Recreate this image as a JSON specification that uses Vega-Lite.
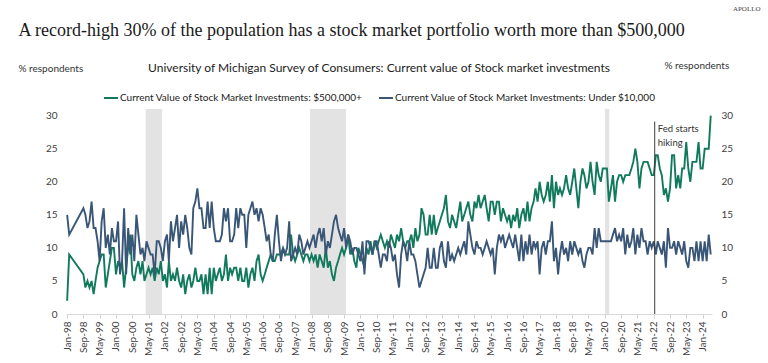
{
  "$schema": "https://vega.github.io/schema/vega-lite/v6.json",
  "width": 646,
  "height": 205,
  "autosize": {"type": "none"},
  "padding": {"left": 66, "top": 109, "right": 56, "bottom": 49},
  "background": "white",
  "config": {"view": {"stroke": null}, "font": "Lato", "axis": {"grid": false}},
  "datasets": {
    "survey": [
      {"d":"1998-01","g":2,"b":15},{"d":"1998-02","g":9,"b":12},{"d":"1998-09","g":6,"b":16},{"d":"1998-10","g":4,"b":15},{"d":"1998-11","g":5,"b":13},{"d":"1998-12","g":4,"b":14},
      {"d":"1999-01","g":5,"b":17},{"d":"1999-02","g":3,"b":13},{"d":"1999-03","g":5,"b":13},{"d":"1999-04","g":7,"b":11},{"d":"1999-05","g":8,"b":8},{"d":"1999-06","g":9,"b":14},{"d":"1999-07","g":9,"b":16},{"d":"1999-08","g":4,"b":10},{"d":"1999-09","g":6,"b":12},{"d":"1999-10","g":8,"b":9},{"d":"1999-11","g":10,"b":13},{"d":"1999-12","g":10,"b":11},
      {"d":"2000-01","g":6,"b":11},{"d":"2000-02","g":8,"b":14},{"d":"2000-03","g":7,"b":6},{"d":"2000-04","g":8,"b":8},{"d":"2000-05","g":4,"b":16},{"d":"2000-06","g":7,"b":6},{"d":"2000-07","g":10,"b":13},{"d":"2000-08","g":12,"b":9},{"d":"2000-09","g":6,"b":12},{"d":"2000-10","g":5,"b":8},{"d":"2000-11","g":7,"b":15},{"d":"2000-12","g":8,"b":12},
      {"d":"2001-01","g":6,"b":9},{"d":"2001-02","g":8,"b":10},{"d":"2001-03","g":5,"b":8},{"d":"2001-04","g":6,"b":11},{"d":"2001-05","g":7,"b":10},{"d":"2001-06","g":6,"b":9},{"d":"2001-07","g":7,"b":9},{"d":"2001-08","g":5,"b":6},{"d":"2001-09","g":7,"b":11},{"d":"2001-10","g":6,"b":11},{"d":"2001-11","g":8,"b":10},{"d":"2001-12","g":5,"b":8},
      {"d":"2002-01","g":6,"b":11},{"d":"2002-02","g":4,"b":12},{"d":"2002-03","g":8,"b":8},{"d":"2002-04","g":5,"b":14},{"d":"2002-05","g":6,"b":11},{"d":"2002-06","g":5,"b":13},{"d":"2002-07","g":7,"b":15},{"d":"2002-08","g":5,"b":10},{"d":"2002-09","g":4,"b":14},{"d":"2002-10","g":6,"b":12},{"d":"2002-11","g":3,"b":15},{"d":"2002-12","g":5,"b":13},
      {"d":"2003-01","g":6,"b":10},{"d":"2003-02","g":4,"b":9},{"d":"2003-03","g":5,"b":16},{"d":"2003-04","g":7,"b":17},{"d":"2003-05","g":5,"b":19},{"d":"2003-06","g":5,"b":16},{"d":"2003-07","g":6,"b":16},{"d":"2003-08","g":3,"b":13},{"d":"2003-09","g":6,"b":13},{"d":"2003-10","g":3,"b":17},{"d":"2003-11","g":7,"b":13},{"d":"2003-12","g":3,"b":17},
      {"d":"2004-01","g":7,"b":13},{"d":"2004-02","g":5,"b":11},{"d":"2004-03","g":6,"b":11},{"d":"2004-04","g":7,"b":11},{"d":"2004-05","g":5,"b":12},{"d":"2004-06","g":6,"b":16},{"d":"2004-07","g":9,"b":14},{"d":"2004-08","g":5,"b":16},{"d":"2004-09","g":7,"b":11},{"d":"2004-10","g":6,"b":11},{"d":"2004-11","g":7,"b":12},{"d":"2004-12","g":7,"b":16},
      {"d":"2005-01","g":5,"b":13},{"d":"2005-02","g":7,"b":16},{"d":"2005-03","g":5,"b":15},{"d":"2005-04","g":5,"b":15},{"d":"2005-05","g":7,"b":10},{"d":"2005-06","g":4,"b":15},{"d":"2005-07","g":6,"b":16},{"d":"2005-08","g":7,"b":17},{"d":"2005-09","g":5,"b":15},{"d":"2005-10","g":8,"b":16},{"d":"2005-11","g":9,"b":14},{"d":"2005-12","g":6,"b":16},
      {"d":"2006-01","g":5,"b":15},{"d":"2006-02","g":6,"b":13},{"d":"2006-03","g":7,"b":11},{"d":"2006-04","g":8,"b":12},{"d":"2006-05","g":9,"b":9},{"d":"2006-06","g":8,"b":8},{"d":"2006-07","g":8,"b":12},{"d":"2006-08","g":9,"b":15},{"d":"2006-09","g":9,"b":11},{"d":"2006-10","g":9,"b":8},{"d":"2006-11","g":10,"b":10},{"d":"2006-12","g":9,"b":9},
      {"d":"2007-01","g":9,"b":10},{"d":"2007-02","g":9,"b":14},{"d":"2007-03","g":12,"b":8},{"d":"2007-04","g":9,"b":9},{"d":"2007-05","g":8,"b":10},{"d":"2007-06","g":9,"b":9},{"d":"2007-07","g":10,"b":12},{"d":"2007-08","g":9,"b":11},{"d":"2007-09","g":8,"b":9},{"d":"2007-10","g":9,"b":10},{"d":"2007-11","g":9,"b":11},{"d":"2007-12","g":8,"b":10},
      {"d":"2008-01","g":9,"b":11},{"d":"2008-02","g":8,"b":12},{"d":"2008-03","g":9,"b":10},{"d":"2008-04","g":7,"b":12},{"d":"2008-05","g":9,"b":13},{"d":"2008-06","g":8,"b":11},{"d":"2008-07","g":7,"b":13},{"d":"2008-08","g":10,"b":9},{"d":"2008-09","g":7,"b":11},{"d":"2008-10","g":8,"b":10},{"d":"2008-11","g":6,"b":12},{"d":"2008-12","g":5,"b":14},
      {"d":"2009-01","g":7,"b":15},{"d":"2009-02","g":8,"b":13},{"d":"2009-03","g":9,"b":12},{"d":"2009-04","g":10,"b":11},{"d":"2009-05","g":9,"b":13},{"d":"2009-06","g":10,"b":10},{"d":"2009-07","g":12,"b":12},{"d":"2009-08","g":9,"b":11},{"d":"2009-09","g":10,"b":9},{"d":"2009-10","g":8,"b":10},{"d":"2009-11","g":7,"b":10},{"d":"2009-12","g":10,"b":9},
      {"d":"2010-01","g":9,"b":8},{"d":"2010-02","g":8,"b":11},{"d":"2010-03","g":7,"b":6},{"d":"2010-04","g":10,"b":11},{"d":"2010-05","g":9,"b":11},{"d":"2010-06","g":11,"b":10},{"d":"2010-07","g":9,"b":9},{"d":"2010-08","g":11,"b":11},{"d":"2010-09","g":10,"b":11},{"d":"2010-10","g":11,"b":9},{"d":"2010-11","g":12,"b":7},{"d":"2010-12","g":11,"b":9},
      {"d":"2011-01","g":10,"b":9},{"d":"2011-02","g":11,"b":8},{"d":"2011-03","g":10,"b":11},{"d":"2011-04","g":12,"b":10},{"d":"2011-05","g":11,"b":8},{"d":"2011-06","g":10,"b":9},{"d":"2011-07","g":12,"b":6},{"d":"2011-08","g":11,"b":4},{"d":"2011-09","g":13,"b":9},{"d":"2011-10","g":11,"b":11},{"d":"2011-11","g":10,"b":10},{"d":"2011-12","g":11,"b":8},
      {"d":"2012-01","g":11,"b":11},{"d":"2012-02","g":12,"b":9},{"d":"2012-03","g":10,"b":9},{"d":"2012-04","g":13,"b":8},{"d":"2012-05","g":11,"b":6},{"d":"2012-06","g":12,"b":4},{"d":"2012-07","g":16,"b":5},{"d":"2012-08","g":15,"b":6},{"d":"2012-09","g":12,"b":7},{"d":"2012-10","g":12,"b":10},{"d":"2012-11","g":15,"b":7},{"d":"2012-12","g":12,"b":7},
      {"d":"2013-01","g":15,"b":10},{"d":"2013-02","g":12,"b":7},{"d":"2013-03","g":13,"b":7},{"d":"2013-04","g":14,"b":10},{"d":"2013-05","g":15,"b":11},{"d":"2013-06","g":16,"b":8},{"d":"2013-07","g":18,"b":7},{"d":"2013-08","g":14,"b":11},{"d":"2013-09","g":13,"b":8},{"d":"2013-10","g":15,"b":9},{"d":"2013-11","g":14,"b":8},{"d":"2013-12","g":13,"b":9},
      {"d":"2014-01","g":15,"b":10},{"d":"2014-02","g":17,"b":9},{"d":"2014-03","g":14,"b":10},{"d":"2014-04","g":15,"b":11},{"d":"2014-05","g":16,"b":9},{"d":"2014-06","g":17,"b":14},{"d":"2014-07","g":15,"b":12},{"d":"2014-08","g":14,"b":10},{"d":"2014-09","g":17,"b":9},{"d":"2014-10","g":16,"b":11},{"d":"2014-11","g":18,"b":10},{"d":"2014-12","g":16,"b":10},
      {"d":"2015-01","g":17,"b":9},{"d":"2015-02","g":18,"b":10},{"d":"2015-03","g":16,"b":11},{"d":"2015-04","g":14,"b":10},{"d":"2015-05","g":17,"b":9},{"d":"2015-06","g":17,"b":10},{"d":"2015-07","g":15,"b":6},{"d":"2015-08","g":17,"b":10},{"d":"2015-09","g":17,"b":12},{"d":"2015-10","g":14,"b":11},{"d":"2015-11","g":16,"b":12},{"d":"2015-12","g":15,"b":10},
      {"d":"2016-01","g":14,"b":11},{"d":"2016-02","g":15,"b":12},{"d":"2016-03","g":13,"b":11},{"d":"2016-04","g":15,"b":10},{"d":"2016-05","g":14,"b":12},{"d":"2016-06","g":16,"b":10},{"d":"2016-07","g":13,"b":8},{"d":"2016-08","g":15,"b":12},{"d":"2016-09","g":16,"b":8},{"d":"2016-10","g":14,"b":11},{"d":"2016-11","g":17,"b":9},{"d":"2016-12","g":14,"b":12},
      {"d":"2017-01","g":16,"b":9},{"d":"2017-02","g":17,"b":11},{"d":"2017-03","g":19,"b":10},{"d":"2017-04","g":17,"b":11},{"d":"2017-05","g":20,"b":6},{"d":"2017-06","g":18,"b":10},{"d":"2017-07","g":17,"b":11},{"d":"2017-08","g":18,"b":9},{"d":"2017-09","g":20,"b":11},{"d":"2017-10","g":17,"b":11},{"d":"2017-11","g":21,"b":14},{"d":"2017-12","g":16,"b":8},
      {"d":"2018-01","g":20,"b":10},{"d":"2018-02","g":18,"b":6},{"d":"2018-03","g":19,"b":9},{"d":"2018-04","g":18,"b":11},{"d":"2018-05","g":19,"b":9},{"d":"2018-06","g":21,"b":10},{"d":"2018-07","g":19,"b":8},{"d":"2018-08","g":18,"b":11},{"d":"2018-09","g":20,"b":9},{"d":"2018-10","g":22,"b":11},{"d":"2018-11","g":19,"b":10},{"d":"2018-12","g":16,"b":9},
      {"d":"2019-01","g":20,"b":10},{"d":"2019-02","g":22,"b":8},{"d":"2019-03","g":21,"b":7},{"d":"2019-04","g":19,"b":9},{"d":"2019-05","g":20,"b":10},{"d":"2019-06","g":23,"b":10},{"d":"2019-07","g":20,"b":9},{"d":"2019-08","g":18,"b":13},{"d":"2019-09","g":23,"b":10},{"d":"2019-10","g":21,"b":13},{"d":"2019-11","g":20,"b":11},{"d":"2019-12","g":22,"b":11},
      {"d":"2020-01","g":22,"b":11},{"d":"2020-02","g":22,"b":11},{"d":"2020-03","g":17,"b":11},{"d":"2020-04","g":19,"b":11},{"d":"2020-05","g":21,"b":12},{"d":"2020-06","g":17,"b":13},{"d":"2020-07","g":20,"b":11},{"d":"2020-08","g":21,"b":12},{"d":"2020-09","g":21,"b":11},{"d":"2020-10","g":20,"b":13},{"d":"2020-11","g":21,"b":9},{"d":"2020-12","g":21,"b":12},
      {"d":"2021-01","g":21,"b":10},{"d":"2021-02","g":22,"b":11},{"d":"2021-03","g":23,"b":13},{"d":"2021-04","g":25,"b":9},{"d":"2021-05","g":23,"b":12},{"d":"2021-06","g":19,"b":10},{"d":"2021-07","g":22,"b":13},{"d":"2021-08","g":23,"b":11},{"d":"2021-09","g":23,"b":11},{"d":"2021-10","g":23,"b":9},{"d":"2021-11","g":22,"b":11},{"d":"2021-12","g":21,"b":10},
      {"d":"2022-01","g":21,"b":11},{"d":"2022-02","g":24,"b":9},{"d":"2022-03","g":24,"b":11},{"d":"2022-04","g":22,"b":10},{"d":"2022-05","g":21,"b":9},{"d":"2022-06","g":18,"b":11},{"d":"2022-07","g":19,"b":7},{"d":"2022-08","g":17,"b":13},{"d":"2022-09","g":19,"b":10},{"d":"2022-10","g":24,"b":10},{"d":"2022-11","g":24,"b":11},{"d":"2022-12","g":19,"b":9},
      {"d":"2023-01","g":21,"b":11},{"d":"2023-02","g":19,"b":10},{"d":"2023-03","g":22,"b":9},{"d":"2023-04","g":22,"b":11},{"d":"2023-05","g":26,"b":8},{"d":"2023-06","g":22,"b":7},{"d":"2023-07","g":20,"b":10},{"d":"2023-08","g":23,"b":10},{"d":"2023-09","g":23,"b":8},{"d":"2023-10","g":23,"b":11},{"d":"2023-11","g":26,"b":8},{"d":"2023-12","g":22,"b":11},
      {"d":"2024-01","g":22,"b":8},{"d":"2024-02","g":25,"b":11},{"d":"2024-03","g":25,"b":8},{"d":"2024-04","g":25,"b":12},{"d":"2024-05","g":30,"b":9}
    ],
    "recessions": [
      {"start":"2001-03-20","end":"2001-11-20"},
      {"start":"2007-12-09","end":"2009-05-30"},
      {"start":"2020-01-04","end":"2020-03-08"}
    ],
    "events": [
      {"date":"2022-01-15","top":29.1,"label":"Fed starts\nhiking"}
    ]
  },
  "layer": [
    {
      "data": {"name": "recessions"},
      "mark": {"type": "rect", "color": "#e3e3e3"},
      "encoding": {
        "x": {"field": "start", "type": "temporal", "axis": null, "scale": {"type": "utc"}},
        "x2": {"field": "end"}
      }
    },
    {
      "data": {"name": "survey"},
      "transform": [{"fold": ["g", "b"], "as": ["series", "value"]}],
      "mark": {"type": "line", "strokeWidth": 1.9},
      "encoding": {
        "x": {
          "field": "d", "type": "temporal",
          "scale": {"type": "utc", "domain": [{"year": 1997, "month": 12, "date": 15, "utc": true}, {"year": 2024, "month": 5, "date": 20, "utc": true}]},
          "axis": {
            "orient": "bottom",
            "values": [
              {"year":1998,"month":1,"date":1,"utc":true},{"year":1998,"month":9,"date":1,"utc":true},{"year":1999,"month":5,"date":1,"utc":true},
              {"year":2000,"month":1,"date":1,"utc":true},{"year":2000,"month":9,"date":1,"utc":true},{"year":2001,"month":5,"date":1,"utc":true},
              {"year":2002,"month":1,"date":1,"utc":true},{"year":2002,"month":9,"date":1,"utc":true},{"year":2003,"month":5,"date":1,"utc":true},
              {"year":2004,"month":1,"date":1,"utc":true},{"year":2004,"month":9,"date":1,"utc":true},{"year":2005,"month":5,"date":1,"utc":true},
              {"year":2006,"month":1,"date":1,"utc":true},{"year":2006,"month":9,"date":1,"utc":true},{"year":2007,"month":5,"date":1,"utc":true},
              {"year":2008,"month":1,"date":1,"utc":true},{"year":2008,"month":9,"date":1,"utc":true},{"year":2009,"month":5,"date":1,"utc":true},
              {"year":2010,"month":1,"date":1,"utc":true},{"year":2010,"month":9,"date":1,"utc":true},{"year":2011,"month":5,"date":1,"utc":true},
              {"year":2012,"month":1,"date":1,"utc":true},{"year":2012,"month":9,"date":1,"utc":true},{"year":2013,"month":5,"date":1,"utc":true},
              {"year":2014,"month":1,"date":1,"utc":true},{"year":2014,"month":9,"date":1,"utc":true},{"year":2015,"month":5,"date":1,"utc":true},
              {"year":2016,"month":1,"date":1,"utc":true},{"year":2016,"month":9,"date":1,"utc":true},{"year":2017,"month":5,"date":1,"utc":true},
              {"year":2018,"month":1,"date":1,"utc":true},{"year":2018,"month":9,"date":1,"utc":true},{"year":2019,"month":5,"date":1,"utc":true},
              {"year":2020,"month":1,"date":1,"utc":true},{"year":2020,"month":9,"date":1,"utc":true},{"year":2021,"month":5,"date":1,"utc":true},
              {"year":2022,"month":1,"date":1,"utc":true},{"year":2022,"month":9,"date":1,"utc":true},{"year":2023,"month":5,"date":1,"utc":true},
              {"year":2024,"month":1,"date":1,"utc":true}
            ],
            "format": "%b-%y",
            "labelAngle": -90,
            "labelFontSize": 10,
            "labelColor": "#404040",
            "labelPadding": 3,
            "labelFlush": false,
            "labelOverlap": false,
            "tickSize": 4,
            "tickColor": "#d0d0d0",
            "domainColor": "#d9d9d9",
            "title": "APOLLO",
            "titleX": 694,
            "titleY": -306,
            "titleAlign": "right",
            "titleBaseline": "middle",
            "titleFont": "Liberation Serif",
            "titleFontSize": 7,
            "titleFontWeight": "normal",
            "titleColor": "#444444"
          }
        },
        "y": {
          "field": "value", "type": "quantitative",
          "scale": {"domain": [0, 31], "nice": false, "zero": false},
          "axis": {
            "orient": "left",
            "values": [0, 5, 10, 15, 20, 25, 30],
            "domain": false,
            "ticks": false,
            "labelPadding": 9,
            "labelFontSize": 10,
            "labelColor": "#404040",
            "title": "% respondents",
            "titleAngle": 0,
            "titleX": -48,
            "titleY": -41,
            "titleAlign": "left",
            "titleBaseline": "middle",
            "titleFontSize": 10,
            "titleFontWeight": "normal",
            "titleColor": "#333333"
          }
        },
        "color": {
          "field": "series", "type": "nominal",
          "scale": {"domain": ["g", "b"], "range": ["#127a5c", "#3a5677"]},
          "legend": {
            "orient": "none",
            "legendX": 37,
            "legendY": -46,
            "direction": "horizontal",
            "title": "University of Michigan Survey of Consumers: Current value of Stock market investments",
            "titleOrient": "top",
            "titleAnchor": "middle",
            "titleFontSize": 12,
            "titleFontWeight": "normal",
            "titleColor": "#222222",
            "titlePadding": 15,
            "titleLimit": 800,
            "labelLimit": 400,
            "labelFontSize": 10,
            "labelColor": "#222222",
            "symbolType": "stroke",
            "symbolSize": 196,
            "symbolStrokeWidth": 2,
            "labelOffset": 1,
            "columnPadding": 12,
            "labelExpr": "datum.value == 'g' ? 'Current Value of Stock Market Investments: $500,000+' : 'Current Value of Stock Market Investments: Under $10,000'"
          }
        }
      }
    },
    {
      "data": {"name": "events"},
      "mark": {"type": "rule", "color": "#3a3a3a", "strokeWidth": 1},
      "encoding": {
        "x": {
          "field": "date", "type": "temporal", "scale": {"type": "utc"},
          "axis": {
            "orient": "top",
            "labels": false,
            "ticks": false,
            "domain": false,
            "title": "A record-high 30% of the population has a stock market portfolio worth more than $500,000",
            "titleX": -48,
            "titleY": -79,
            "titleAlign": "left",
            "titleBaseline": "middle",
            "titleFont": "Liberation Serif",
            "titleFontSize": 18,
            "titleFontWeight": "normal",
            "titleColor": "#1a1a1a"
          }
        },
        "y": {
          "field": "top", "type": "quantitative",
          "scale": {"domain": [0, 31], "nice": false, "zero": false},
          "axis": {
            "orient": "right",
            "values": [0, 5, 10, 15, 20, 25, 30],
            "domain": false,
            "ticks": false,
            "labelPadding": 9,
            "labelFontSize": 10,
            "labelColor": "#404040",
            "title": "% respondents",
            "titleAngle": 0,
            "titleX": -48,
            "titleY": -44,
            "titleAlign": "left",
            "titleBaseline": "middle",
            "titleFontSize": 10,
            "titleFontWeight": "normal",
            "titleColor": "#333333"
          }
        },
        "y2": {"datum": 0}
      }
    },
    {
      "data": {"name": "events"},
      "mark": {"type": "text", "align": "left", "baseline": "top", "dx": 3, "dy": 2, "lineBreak": "\n", "fontSize": 9.5, "lineHeight": 14, "color": "#333333"},
      "encoding": {
        "x": {"field": "date", "type": "temporal", "axis": null, "scale": {"type": "utc"}},
        "y": {"field": "top", "type": "quantitative", "axis": null, "scale": {"domain": [0, 31], "nice": false, "zero": false}},
        "text": {"field": "label"}
      }
    }
  ],
  "resolve": {"axis": {"x": "independent", "y": "independent"}}
}
